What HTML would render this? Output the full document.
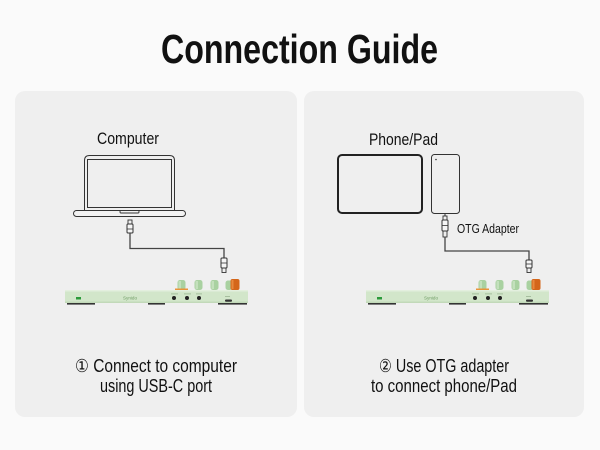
<!DOCTYPE html>
<html>
<head>
<meta charset="utf-8">
<style>
  html, body { margin:0; padding:0; background:#fafafa; }
  svg { display:block; }
  text { font-family: "Liberation Sans", "DejaVu Sans", sans-serif; fill:#111; }
</style>
</head>
<body>
<svg width="600" height="450" viewBox="0 0 600 450" xmlns="http://www.w3.org/2000/svg">
  <rect x="0" y="0" width="600" height="450" fill="#fafafa"/>

  <!-- Title -->
  <text x="161" y="63" font-size="41" font-weight="bold" textLength="277" lengthAdjust="spacingAndGlyphs">Connection Guide</text>

  <!-- Panels -->
  <rect x="15" y="91" width="282" height="326" rx="10" fill="#efefef"/>
  <rect x="304" y="91" width="280" height="326" rx="10" fill="#efefef"/>

  <!-- ===== LEFT PANEL ===== -->
  <text x="97" y="144" font-size="17" textLength="62" lengthAdjust="spacingAndGlyphs">Computer</text>

  <!-- Laptop -->
  <path d="M84.5,210.5 V160.5 Q84.5,155.5 89.5,155.5 H169.5 Q174.5,155.5 174.5,160.5 V210.5" fill="none" stroke="#333" stroke-width="1"/>
  <rect x="87.5" y="159.5" width="84" height="48" fill="none" stroke="#333" stroke-width="1"/>
  <rect x="73.5" y="210.5" width="112" height="6" rx="3" fill="#f2f2f2" stroke="#333" stroke-width="1"/>
  <rect x="120" y="210.5" width="19" height="2.5" rx="1" fill="none" stroke="#333" stroke-width="0.9"/>

  <!-- USB plug top -->
  <rect x="128" y="220" width="4" height="4" fill="none" stroke="#333" stroke-width="0.9"/>
  <rect x="127" y="224" width="6" height="9" rx="1" fill="#f5f5f5" stroke="#333" stroke-width="1"/>
  <line x1="127" y1="229" x2="133" y2="229" stroke="#333" stroke-width="0.8"/>
  <!-- cable -->
  <path d="M130,233 V248.5 H224 V258" fill="none" stroke="#444" stroke-width="1.3"/>
  <!-- USB plug bottom -->
  <rect x="221" y="258" width="6" height="10" rx="1" fill="#f5f5f5" stroke="#333" stroke-width="1"/>
  <line x1="221" y1="263" x2="227" y2="263" stroke="#333" stroke-width="0.8"/>
  <rect x="222" y="268" width="4" height="4.5" fill="none" stroke="#333" stroke-width="0.9"/>

  <!-- Keyboard left -->
  <g>
    <rect x="177.5" y="280" width="8" height="10" rx="2.5" fill="#a9d1a1"/>
    <rect x="178.5" y="281" width="2.5" height="8" fill="#c3e0bc"/>
    <rect x="175" y="288.5" width="13" height="2" fill="#e8953a"/>
    <rect x="194.5" y="280" width="8" height="10" rx="2.5" fill="#a9d1a1"/>
    <rect x="195.5" y="281" width="2.5" height="8" fill="#c3e0bc"/>
    <rect x="210.5" y="280" width="8" height="10" rx="2.5" fill="#a9d1a1"/>
    <rect x="211.5" y="281" width="2.5" height="8" fill="#c3e0bc"/>
    <rect x="225.5" y="280.5" width="7" height="9.5" rx="2.5" fill="#a9d1a1"/>
    <rect x="230.5" y="279" width="9" height="11" rx="2" fill="#d4661a"/>
    <rect x="231.5" y="280" width="2" height="9" fill="#e8883c"/>
    <rect x="65" y="290" width="183" height="13" rx="1.5" fill="#d2e6ca"/>
    <rect x="65" y="290" width="183" height="1.5" fill="#e3efde"/>
    <rect x="65" y="301.5" width="183" height="1.5" fill="#c2d9b9"/>
    <rect x="67" y="303" width="28" height="1.6" fill="#333"/>
    <rect x="148" y="303" width="17" height="1.6" fill="#333"/>
    <rect x="218" y="303" width="29" height="1.6" fill="#333"/>
    <rect x="76" y="297" width="5" height="2.5" fill="#2a9a3a"/>
    <text x="123" y="299.5" font-size="4.5" style="fill:#6f9d64" textLength="14" lengthAdjust="spacingAndGlyphs">Synido</text>
    <rect x="171" y="293.5" width="7" height="0.8" fill="#9ab592"/>
    <rect x="184" y="293.5" width="7" height="0.8" fill="#9ab592"/>
    <rect x="196" y="293.5" width="6" height="0.8" fill="#9ab592"/>
    <rect x="225" y="296" width="5" height="0.8" fill="#9ab592"/>
    <circle cx="174" cy="298" r="2" fill="#222"/>
    <circle cx="187" cy="298" r="2" fill="#222"/>
    <circle cx="199" cy="298" r="2" fill="#222"/>
    <rect x="225" y="299.5" width="7" height="2.2" rx="1" fill="#333"/>
  </g>

  <text x="75" y="372" font-size="18" textLength="162" lengthAdjust="spacingAndGlyphs">① Connect to computer</text>
  <text x="100" y="392" font-size="18" textLength="112" lengthAdjust="spacingAndGlyphs">using USB-C port</text>

  <!-- ===== RIGHT PANEL ===== -->
  <text x="369" y="145" font-size="17" textLength="69" lengthAdjust="spacingAndGlyphs">Phone/Pad</text>

  <!-- Tablet -->
  <rect x="338" y="155" width="84" height="58" rx="4" fill="none" stroke="#222" stroke-width="2"/>
  <!-- Phone -->
  <rect x="431.5" y="154.5" width="28" height="59" rx="3" fill="none" stroke="#333" stroke-width="1"/>
  <circle cx="436" cy="159.5" r="0.8" fill="#333"/>

  <!-- OTG adapter -->
  <line x1="445" y1="214" x2="445" y2="216" stroke="#333" stroke-width="1"/>
  <rect x="443" y="216" width="4" height="4" fill="none" stroke="#333" stroke-width="0.9"/>
  <rect x="442" y="220" width="6" height="11" rx="1" fill="#f5f5f5" stroke="#333" stroke-width="1"/>
  <line x1="442" y1="225.5" x2="448" y2="225.5" stroke="#333" stroke-width="0.8"/>
  <rect x="443" y="231" width="4" height="6" fill="none" stroke="#333" stroke-width="0.9"/>
  <text x="457" y="233" font-size="12.5" textLength="62" lengthAdjust="spacingAndGlyphs">OTG Adapter</text>

  <!-- cable -->
  <path d="M445,237 V251 H529 V260" fill="none" stroke="#444" stroke-width="1.3"/>
  <rect x="526" y="260" width="6" height="8" rx="1" fill="#f5f5f5" stroke="#333" stroke-width="1"/>
  <line x1="526" y1="264" x2="532" y2="264" stroke="#333" stroke-width="0.8"/>
  <rect x="527" y="268" width="4" height="4.5" fill="none" stroke="#333" stroke-width="0.9"/>

  <!-- Keyboard right -->
  <g transform="translate(301,0)">
    <rect x="177.5" y="280" width="8" height="10" rx="2.5" fill="#a9d1a1"/>
    <rect x="178.5" y="281" width="2.5" height="8" fill="#c3e0bc"/>
    <rect x="175" y="288.5" width="13" height="2" fill="#e8953a"/>
    <rect x="194.5" y="280" width="8" height="10" rx="2.5" fill="#a9d1a1"/>
    <rect x="195.5" y="281" width="2.5" height="8" fill="#c3e0bc"/>
    <rect x="210.5" y="280" width="8" height="10" rx="2.5" fill="#a9d1a1"/>
    <rect x="211.5" y="281" width="2.5" height="8" fill="#c3e0bc"/>
    <rect x="225.5" y="280.5" width="7" height="9.5" rx="2.5" fill="#a9d1a1"/>
    <rect x="230.5" y="279" width="9" height="11" rx="2" fill="#d4661a"/>
    <rect x="231.5" y="280" width="2" height="9" fill="#e8883c"/>
    <rect x="65" y="290" width="183" height="13" rx="1.5" fill="#d2e6ca"/>
    <rect x="65" y="290" width="183" height="1.5" fill="#e3efde"/>
    <rect x="65" y="301.5" width="183" height="1.5" fill="#c2d9b9"/>
    <rect x="67" y="303" width="28" height="1.6" fill="#333"/>
    <rect x="148" y="303" width="17" height="1.6" fill="#333"/>
    <rect x="218" y="303" width="29" height="1.6" fill="#333"/>
    <rect x="76" y="297" width="5" height="2.5" fill="#2a9a3a"/>
    <text x="123" y="299.5" font-size="4.5" style="fill:#6f9d64" textLength="14" lengthAdjust="spacingAndGlyphs">Synido</text>
    <rect x="171" y="293.5" width="7" height="0.8" fill="#9ab592"/>
    <rect x="184" y="293.5" width="7" height="0.8" fill="#9ab592"/>
    <rect x="196" y="293.5" width="6" height="0.8" fill="#9ab592"/>
    <rect x="225" y="296" width="5" height="0.8" fill="#9ab592"/>
    <circle cx="174" cy="298" r="2" fill="#222"/>
    <circle cx="187" cy="298" r="2" fill="#222"/>
    <circle cx="199" cy="298" r="2" fill="#222"/>
    <rect x="225" y="299.5" width="7" height="2.2" rx="1" fill="#333"/>
  </g>

  <text x="379" y="372" font-size="18" textLength="130" lengthAdjust="spacingAndGlyphs">② Use OTG adapter</text>
  <text x="371" y="392" font-size="18" textLength="146" lengthAdjust="spacingAndGlyphs">to connect phone/Pad</text>
</svg>
</body>
</html>
